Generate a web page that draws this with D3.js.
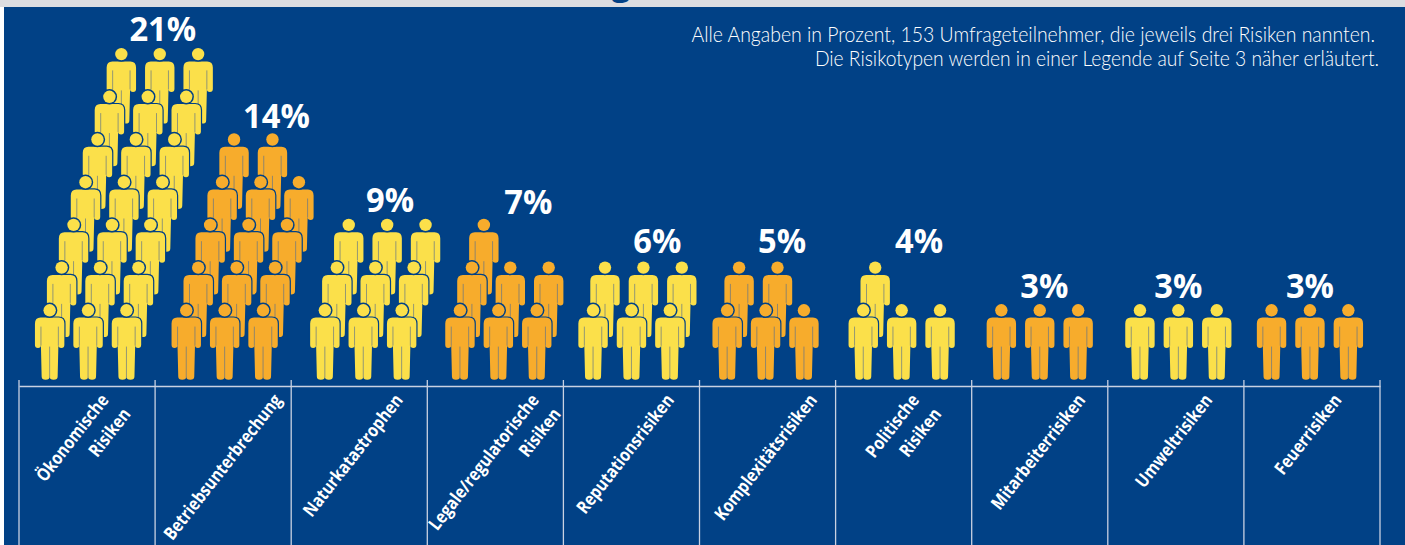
<!DOCTYPE html>
<html>
<head>
<meta charset="utf-8">
<script src="https://cdn.jsdelivr.net/npm/d3@7"></script>
<style>
  html, body { margin: 0; padding: 0; background: #fff; }
  svg { display: block; }
</style>
</head>
<body>
<div id="chart"></div>
<script>
const WIDTH = 1405;
const HEIGHT = 545;

// one figure stands for one percent
const categories = [
  ['Ökonomische', 'Risiken'],
  ['Betriebsunterbrechung'],
  ['Naturkatastrophen'],
  ['Legale/regulatorische', 'Risiken'],
  ['Reputationsrisiken'],
  ['Komplexitätsrisiken'],
  ['Politische', 'Risiken'],
  ['Mitarbeiterrisiken'],
  ['Umweltrisiken'],
  ['Feuerrisiken']
];
const values = [21, 14, 9, 7, 6, 5, 4, 3, 3, 3];
const notes = [
  'Alle Angaben in Prozent, 153 Umfrageteilnehmer, die jeweils drei Risiken nannten.',
  'Die Risikotypen werden in einer Legende auf Seite 3 näher erläutert.'
];

const BLUE = '#014186';
const YELLOW = '#fbe04a';
const ORANGE = '#f7ac2c';
const GAP_COLOR = '#5f7388';
const RULE_COLOR = '#c9d1e2';

const PER_ROW = 3;
const AXIS_Y = 386;
const FOOT_Y = 379.6;
const ROW_STEP = 42.7;
const ROW_SHIFT = 11.95;
const COL_STEP = 38.4;

// hand nudges, the groups are not quite centred in their cells
const GROUP_NUDGE = [1, 1.5, 4, 3, 0, -2, -2, 0, 2.5, -2];
const PCT_NUDGE_X = [3, 4, 3, 6, 14, 4.5, 5.5, 4.5, 0, 0];
const PCT_NUDGE_Y = [1, 2, 1, 2.4, -1.3, -1.3, -1.3, 1, 1, 1];
// where the label ends, relative to the start of the cell
const LABEL_END = [81, 118, 103, 103, 102, 109, 75, 105, 96, 89];

const svg = d3.select('#chart')
  .append('svg')
  .attr('width', WIDTH)
  .attr('height', HEIGHT);

svg.append('rect').attr('width', WIDTH).attr('height', HEIGHT).attr('fill', '#fff');
svg.append('rect').attr('width', WIDTH).attr('height', 7).attr('fill', '#dcdde1');
svg.append('rect').attr('x', 4).attr('y', 7).attr('width', WIDTH - 4).attr('height', HEIGHT - 7).attr('fill', BLUE);

// only the descender of the cropped headline is left
svg.append('text')
  .attr('x', 621)
  .attr('y', -5)
  .attr('text-anchor', 'middle')
  .attr('fill', BLUE)
  .style('font-family', '"Open Sans", sans-serif')
  .style('font-weight', 700)
  .style('font-size', '34px')
  .text('g');

const x = d3.scaleBand()
  .domain(d3.range(categories.length))
  .range([19, 1380]);

const rowY = d3.scaleLinear()
  .domain([0, 6])
  .range([FOOT_Y, FOOT_Y - 6 * ROW_STEP]);

const figX = d3.scaleLinear()
  .domain([0, 1])
  .range([0, COL_STEP]);

// axis line, the ticks run down past the labels
const axis = d3.axisBottom(x)
  .tickSize(HEIGHT - AXIS_Y)
  .tickSizeOuter(0)
  .tickFormat('');

const axisG = svg.append('g')
  .attr('transform', `translate(0, ${AXIS_Y})`)
  .call(axis);
axisG.select('.domain').attr('stroke', RULE_COLOR).attr('stroke-width', 1.3);
axisG.selectAll('.tick').remove();

const tickPos = categories.map((d, i) => x(i)).concat([x.range()[1]]);
svg.append('g').selectAll('line')
  .data(tickPos)
  .enter()
  .append('line')
  .attr('x1', d => d)
  .attr('x2', d => d)
  .attr('y1', AXIS_Y - 6)
  .attr('y2', HEIGHT)
  .attr('stroke', RULE_COLOR)
  .attr('stroke-width', 1.3);

// figure outline, foot line at y = 0 and centre at x = 0
const bodyPath = [
  'M-9,-62', 'L9,-62', 'Q14.7,-62 14.7,-56',
  'L14.7,-34.5', 'A3,3 0 0 1 8.7,-34.5', 'L8.7,-33',
  'L8,-3', 'A4,3.2 0 0 1 0,-3',
  'A4,3.2 0 0 1 -8,-3', 'L-8.7,-33', 'L-8.7,-34.5',
  'A3,3 0 0 1 -14.7,-34.5', 'L-14.7,-56', 'Q-14.7,-62 -9,-62', 'Z'
].join(' ');

const figures = [];
values.forEach((v, g) => {
  d3.range(v).forEach(n => {
    figures.push({ group: g, row: Math.floor(n / PER_ROW), col: n % PER_ROW });
  });
});
// back rows first so the front rows overlap them
figures.sort((a, b) => d3.descending(a.row, b.row) || d3.descending(a.col, b.col));

const figX0 = d => x(d.group) + x.bandwidth() / 2 + GROUP_NUDGE[d.group] - COL_STEP;

const fig = svg.append('g').selectAll('g')
  .data(figures)
  .enter()
  .append('g')
  .attr('transform', d => `translate(${figX0(d) + figX(d.col) + d.row * ROW_SHIFT}, ${rowY(d.row)})`)
  .attr('fill', d => d.group % 2 == 0 ? YELLOW : ORANGE);

fig.append('path')
  .attr('d', bodyPath)
  .attr('stroke', BLUE)
  .attr('stroke-width', 2.4)
  .attr('paint-order', 'stroke');

fig.append('circle')
  .attr('cy', -69.3)
  .attr('r', 6.2)
  .attr('stroke', BLUE)
  .attr('stroke-width', 3)
  .attr('paint-order', 'stroke');

const gapLines = [[-8.7, -53, -8.7, -34], [8.7, -53, 8.7, -34], [0, -33, 0, -2]];
fig.selectAll('line')
  .data(gapLines)
  .enter()
  .append('line')
  .attr('x1', d => d[0])
  .attr('y1', d => d[1])
  .attr('x2', d => d[2])
  .attr('y2', d => d[3])
  .attr('stroke', GAP_COLOR)
  .attr('stroke-opacity', 0.75)
  .attr('stroke-width', 0.9);

// percent labels above the top row
svg.append('g').selectAll('text')
  .data(values)
  .enter()
  .append('text')
  .attr('transform', (d, i) => {
    const rows = Math.ceil(d / PER_ROW);
    const px = x(i) + x.bandwidth() / 2 + GROUP_NUDGE[i] + (rows - 1) * ROW_SHIFT + PCT_NUDGE_X[i];
    const py = rowY(rows - 1) - 83 + PCT_NUDGE_Y[i];
    return `translate(${px}, ${py}) scale(0.96, 1)`;
  })
  .attr('text-anchor', 'middle')
  .attr('fill', '#fff')
  .style('font-family', '"Open Sans", sans-serif')
  .style('font-weight', 700)
  .style('font-size', '34px')
  .text(d => d + '%');

// rotated category labels
const labels = svg.append('g').selectAll('g')
  .data(categories)
  .enter()
  .append('g')
  .attr('transform', (d, i) => `translate(${x(i) + LABEL_END[i]}, 393) rotate(-52) scale(0.85, 1)`);

labels.selectAll('text')
  .data(d => d)
  .enter()
  .append('text')
  .attr('x', (d, i) => i * 3)
  .attr('y', (d, i) => 12 + i * 26)
  .attr('text-anchor', 'end')
  .attr('fill', '#fff')
  .style('font-family', '"Open Sans", sans-serif')
  .style('font-weight', 700)
  .style('font-size', '18px')
  .text(d => d);

// note top right
svg.append('g').selectAll('text')
  .data(notes)
  .enter()
  .append('text')
  .attr('transform', (d, i) => `translate(${i == 0 ? 1375 : 1379}, ${42 + i * 24}) scale(${i == 0 ? 0.926 : 0.917}, 1)`)
  .attr('text-anchor', 'end')
  .attr('fill', '#fff')
  .style('font-family', 'Lato, sans-serif')
  .style('font-weight', 300)
  .style('font-size', '21px')
  .text(d => d);
</script>
</body>
</html>
